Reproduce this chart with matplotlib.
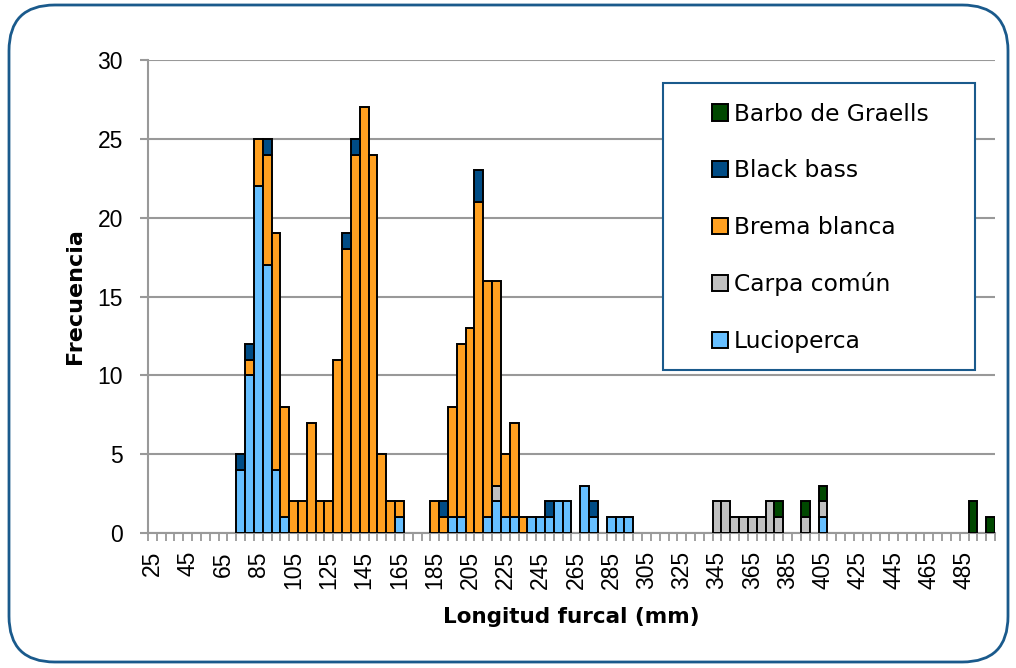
import numpy as np
import matplotlib
matplotlib.use('Agg')
import matplotlib.pyplot as plt
from matplotlib.patches import FancyBboxPatch, Rectangle

# length classes (mm), 5 mm bins
lengths = list(range(25, 505, 5))

# counts per length class
lucioperca = {75: 4, 80: 10, 85: 22, 90: 17, 95: 4, 100: 1, 165: 1, 195: 1, 200: 1,
              215: 1, 220: 2, 225: 1, 230: 1, 240: 1, 245: 1, 250: 1, 255: 2, 260: 2,
              270: 3, 275: 1, 285: 1, 290: 1, 295: 1, 405: 1}
carpa = {220: 1, 345: 2, 350: 2, 355: 1, 360: 1, 365: 1, 370: 1, 375: 2, 380: 1,
         395: 1, 405: 1}
brema = {80: 1, 85: 3, 90: 7, 95: 15, 100: 7, 105: 2, 110: 2, 115: 7, 120: 2, 125: 2,
         130: 11, 135: 18, 140: 24, 145: 27, 150: 24, 155: 5, 160: 2, 165: 1, 185: 2,
         190: 1, 195: 7, 200: 11, 205: 13, 210: 21, 215: 15, 220: 13, 225: 4, 230: 6,
         235: 1}
black_bass = {75: 1, 80: 1, 90: 1, 135: 1, 140: 1, 190: 1, 210: 2, 250: 1, 275: 1}
barbo = {380: 1, 395: 1, 405: 1, 490: 2, 500: 1}

# stacked bottom -> top
series = [
    ('Lucioperca', lucioperca, '#66BFFF'),
    ('Carpa común', carpa, '#C0C0C0'),
    ('Brema blanca', brema, '#FFA020'),
    ('Black bass', black_bass, '#004C85'),
    ('Barbo de Graells', barbo, '#004800'),
]

fig = plt.figure(figsize=(10.16, 6.68), dpi=100)
W, H = 1016, 668

# rounded outer frame, behind everything
frame = FancyBboxPatch((9 / W, 6 / H), 999 / W, 657 / H,
                       boxstyle='round,pad=0,rounding_size=0.045',
                       transform=fig.transFigure, facecolor='white',
                       edgecolor='#1A5A8C', linewidth=2.0, mutation_aspect=W / H,
                       zorder=-10)
fig.patches.append(frame)

ax = fig.add_axes([148 / W, (H - 533) / H, 847 / W, 473 / H])
ax.set_facecolor('none')

x = np.arange(len(lengths))
bottom = np.zeros(len(lengths))
handles = {}
for name, data, color in series:
    vals = np.array([data.get(l, 0) for l in lengths], dtype=float)
    mask = vals > 0
    ax.bar(x[mask], vals[mask], width=1.0, bottom=bottom[mask], color=color,
           edgecolor='black', linewidth=1.4, zorder=3)
    bottom += vals
    handles[name] = Rectangle((0, 0), 1, 1, facecolor=color, edgecolor='black', linewidth=1.4)

ax.set_xlim(-0.5, len(lengths) - 0.5)
ax.set_ylim(0, 30)
ax.set_yticks(range(0, 31, 5))
ax.yaxis.grid(True, color='#999999', linewidth=1.5, zorder=0)
ax.set_axisbelow(True)

for s in ['top', 'right']:
    ax.spines[s].set_visible(False)
for s in ['left', 'bottom']:
    ax.spines[s].set_color('#999999')
    ax.spines[s].set_linewidth(1.5)

ax.set_xticks(x[::4])
ax.set_xticklabels([str(l) for l in lengths[::4]], rotation=90,
                   fontfamily='Liberation Sans', fontsize=16.5)
ax.set_xticks(np.arange(-0.5, len(lengths)), minor=True)
ax.tick_params(axis='x', which='major', length=0, pad=13)
ax.tick_params(axis='x', which='minor', length=6, width=1.3, color='#999999')
ax.tick_params(axis='y', length=6, width=1.5, color='#999999', pad=12, labelsize=16.5)
for t in ax.get_yticklabels():
    t.set_fontfamily('Liberation Sans')

ax.set_xlabel('Longitud furcal (mm)', fontsize=15.5, fontweight='bold', labelpad=13)
ax.set_ylabel('Frecuencia', fontsize=16, fontweight='bold', labelpad=9)

# legend box
fig.patches.append(Rectangle((663 / W, (H - 370) / H), 312 / W, 287 / H,
                             transform=fig.transFigure, facecolor='white',
                             edgecolor='#1A5A8C', linewidth=1.5, zorder=5))
order = ['Barbo de Graells', 'Black bass', 'Brema blanca', 'Carpa común', 'Lucioperca']
leg = fig.legend([handles[n] for n in order], order, loc='upper left',
                 bbox_to_anchor=(700 / W, (H - 91) / H), frameon=False,
                 prop={'family': 'DejaVu Sans', 'size': 16.8}, handlelength=0.7,
                 handleheight=0.7, handletextpad=0.25, labelspacing=1.44,
                 borderpad=0)
leg.set_zorder(6)

fig.savefig('out.png', dpi=100)
